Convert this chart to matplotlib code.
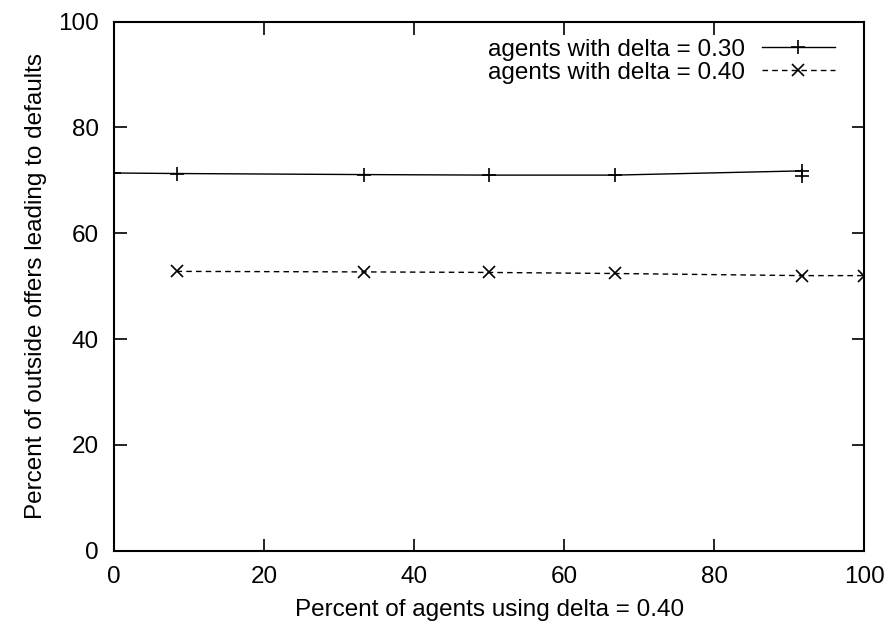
import matplotlib.pyplot as plt

plt.rcParams['font.family'] = ['Liberation Sans', 'DejaVu Sans']

# 데이터
pct_agents_30 = [0, 8.3, 33.3, 50, 66.7, 91.7, 91.7]
defaults_30 = [71.4, 71.3, 71.1, 71.0, 71.0, 71.8, 70.8]
pct_agents_40 = [8.3, 33.3, 50, 66.7, 91.7, 100]
defaults_40 = [52.8, 52.7, 52.6, 52.4, 52.0, 52.0]
labels = ["agents with delta = 0.30", "agents with delta = 0.40"]

fig = plt.figure(figsize=(8.88, 6.29), dpi=100)
ax = fig.add_axes([0.1287, 0.1245, 0.8446, 0.841])

ax.plot(pct_agents_30, defaults_30, color='black', lw=1.0, marker='+',
        ms=10, mew=1.2, label=labels[0])
ax.plot(pct_agents_40, defaults_40, color='black', lw=1.0, ls=(0, (4, 3)),
        marker='x', ms=8, mew=1.2, label=labels[1])

ax.set_xlim(0, 100)
ax.set_ylim(0, 100)
ax.set_xticks(range(0, 101, 20))
ax.set_yticks(range(0, 101, 20))
ax.tick_params(direction='in', top=True, right=True, length=9, width=1.2,
               labelsize=17.5, pad=11)
for s in ax.spines.values():
    s.set_linewidth(1.5)

ax.set_xlabel("Percent of agents using delta = 0.40", fontsize=17.5, labelpad=8)
ax.set_ylabel("Percent of outside offers leading to defaults", fontsize=17.5,
              labelpad=8)

ax.legend(loc='upper right', frameon=False, markerfirst=False, fontsize=17.5,
          handlelength=3.0, borderaxespad=0.3, labelspacing=0.05,
          handletextpad=0.7, bbox_to_anchor=(0.983, 1.0))

fig.savefig("out.png", dpi=100)
